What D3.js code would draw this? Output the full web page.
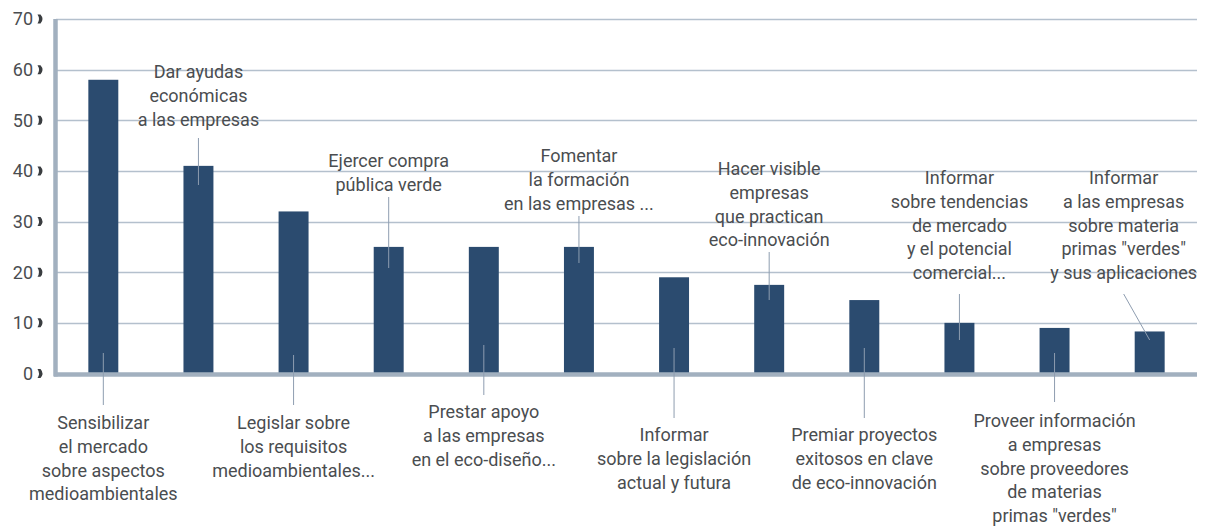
<!DOCTYPE html>
<html>
<head>
<meta charset="utf-8">
<script src="https://cdn.jsdelivr.net/npm/d3@7"></script>
<style>
  body { margin: 0; background: #fff; }
  text { font-family: Roboto, "Noto Sans", sans-serif; fill: #4a4d50; }
</style>
</head>
<body>
<div id="chart"></div>
<script>
const categories = [
    "Sensibilizar\nel mercado\nsobre aspectos\nmedioambientales",
    "Dar ayudas\neconómicas\na las empresas",
    "Legislar sobre\nlos requisitos\nmedioambientales...",
    "Ejercer compra\npública verde",
    "Prestar apoyo\na las empresas\nen el eco-diseño...",
    "Fomentar\nla formación\nen las empresas ...",
    "Informar\nsobre la legislación\nactual y futura",
    "Hacer visible\nempresas\nque practican\neco-innovación",
    "Premiar proyectos\nexitosos en clave\nde eco-innovación",
    "Informar\nsobre tendencias\nde mercado\ny el potencial\ncomercial...",
    "Proveer información\na empresas\nsobre proveedores\nde materias\nprimas \"verdes\"",
    "Informar\na las empresas\nsobre materia\nprimas \"verdes\"\ny sus aplicaciones"
];
const values = [58, 41, 32, 25, 25, 25, 19, 17.5, 14.5, 10, 9, 8.3];
const yTicks = [0, 10, 20, 30, 40, 50, 60, 70];

// annotation layout: first text line centre, connector ends (px), label x shift
const labelLayout = [
    { textY: 423, y1: 353, y2: 405, dx: 0 },
    { textY: 72, y1: 185, y2: 138, dx: 0 },
    { textY: 423, y1: 355, y2: 405, dx: 0 },
    { textY: 161, y1: 268, y2: 197, dx: 0 },
    { textY: 412, y1: 345, y2: 395, dx: 0 },
    { textY: 156, y1: 263, y2: 216, dx: 0 },
    { textY: 435, y1: 348, y2: 418, dx: 0 },
    { textY: 169, y1: 300, y2: 252, dx: 0 },
    { textY: 435, y1: 348, y2: 418, dx: 0 },
    { textY: 178, y1: 340, y2: 294, dx: 0 },
    { textY: 421, y1: 353, y2: 402, dx: 0 },
    { textY: 178, y1: 340, y2: 294, dx: -26 }
];

const width = 1207, height = 531;
const margin = { left: 56, right: 10, top: 19, bottom: 158 };
const lineH = 23.6;

const svg = d3.select("#chart").append("svg")
    .attr("width", width)
    .attr("height", height);

const x = d3.scaleBand()
    .domain(d3.range(categories.length))
    .range([margin.left, width - margin.right])
    .paddingInner(0.685)
    .paddingOuter(0.34);

const y = d3.scaleLinear()
    .domain([0, 70])
    .range([height - margin.bottom + 0.5, margin.top]);

// gridlines
svg.append("g")
    .selectAll("line")
    .data(yTicks.filter(d => d > 0))
    .join("line")
    .attr("x1", margin.left)
    .attr("x2", width - margin.right)
    .attr("y1", d => Math.round(y(d)) + 0.5)
    .attr("y2", d => Math.round(y(d)) + 0.5)
    .attr("stroke", "#b4c0cd")
    .attr("stroke-width", 1.3);

// bars
svg.append("g")
    .selectAll("rect")
    .data(values)
    .join("rect")
    .attr("x", (d, i) => x(i))
    .attr("y", d => y(d))
    .attr("width", x.bandwidth())
    .attr("height", d => y(0) - y(d))
    .attr("fill", "#2b4b6f");

// axes lines
svg.append("line")
    .attr("x1", margin.left - 2).attr("x2", width - margin.right)
    .attr("y1", y(0) + 1).attr("y2", y(0) + 1)
    .attr("stroke", "#a2b0bf").attr("stroke-width", 4.5);
svg.append("line")
    .attr("x1", margin.left - 0.5).attr("x2", margin.left - 0.5)
    .attr("y1", y(70)).attr("y2", y(0) + 3)
    .attr("stroke", "#a2b0bf").attr("stroke-width", 4.5);

// y tick labels with chevron marks
const tick = svg.append("g")
    .selectAll("g")
    .data(yTicks)
    .join("g")
    .attr("transform", d => `translate(0,${y(d)})`);

tick.append("text")
    .attr("x", 33)
    .attr("text-anchor", "end")
    .attr("dy", "0.36em")
    .style("font-size", "18px")
    .text(d => d);

tick.append("path")
    .attr("d", "M37.5,-4.5 L40.5,-4.5 Q44.5,0 40.5,4.5 L37.5,4.5 Q40.5,0 37.5,-4.5 Z")
    .attr("fill", "#3a3d40");

// annotations
const ann = svg.append("g")
    .selectAll("g")
    .data(categories.map((c, i) => ({ c, i, v: values[i], l: labelLayout[i] })))
    .join("g");

ann.append("line")
    .attr("x1", d => x(d.i) + x.bandwidth() / 2)
    .attr("x2", d => x(d.i) + x.bandwidth() / 2 + d.l.dx)
    .attr("y1", d => d.l.y1)
    .attr("y2", d => d.l.y2)
    .attr("stroke", "#8e9db0")
    .attr("stroke-width", 1);

ann.append("text")
    .attr("text-anchor", "middle")
    .style("font-size", "18px")
    .each(function(d) {
        const cx = x(d.i) + x.bandwidth() / 2 + d.l.dx;
        d3.select(this).selectAll("tspan")
            .data(d.c.split("\n"))
            .join("tspan")
            .attr("x", cx)
            .attr("y", (t, k) => d.l.textY + k * lineH)
            .attr("dy", "0.36em")
            .text(t => t);
    });
</script>
</body>
</html>
